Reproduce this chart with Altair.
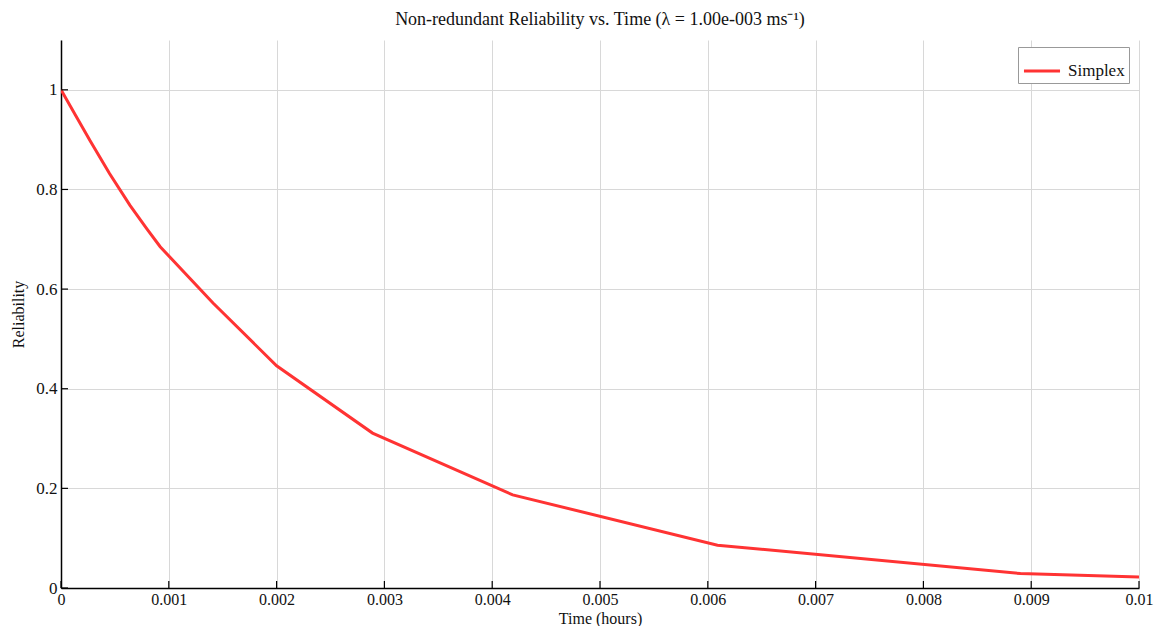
import altair as alt
import pandas as pd

time_h = [0, 0.00014, 0.00027, 0.00045, 0.00064, 0.0008, 0.00092, 0.00141, 0.002,
          0.00289, 0.00419, 0.00609, 0.0089, 0.01]
reliability = [1.0, 0.947, 0.898, 0.832, 0.768, 0.720, 0.685, 0.572, 0.446,
               0.311, 0.187, 0.086, 0.029, 0.022]
series = ["Simplex"] * len(time_h)

x_ticks = [0, 0.001, 0.002, 0.003, 0.004, 0.005, 0.006, 0.007, 0.008, 0.009, 0.01]
y_ticks = [0, 0.2, 0.4, 0.6, 0.8, 1.0]

W, H = 1078, 548
FONT = "Liberation Serif"

df = pd.DataFrame({"t": time_h, "r": reliability, "s": series})
xt = pd.DataFrame({"t": x_ticks})
yt = pd.DataFrame({"r": y_ticks})

xscale = alt.Scale(domain=[0, 0.01], nice=False, zero=False)
yscale = alt.Scale(domain=[0, 1.1], nice=False)

line = alt.Chart(df).mark_line(strokeWidth=3, clip=True).encode(
    x=alt.X("t:Q", scale=xscale, title="Time (hours)",
            axis=alt.Axis(values=x_ticks, format="~g", grid=True, tickSize=0,
                          labelFlush=False, labelPadding=3, titlePadding=3,
                          labelFontSize=16)),
    y=alt.Y("r:Q", scale=yscale, title="Reliability",
            axis=alt.Axis(values=y_ticks, format="~g", grid=True, tickSize=0,
                          labelPadding=4, titlePadding=9)),
    color=alt.Color("s:N", scale=alt.Scale(range=["#ff3333"]),
                    legend=alt.Legend(title=None, orient="none", legendX=957, legendY=7,
                                      symbolType="stroke", symbolStrokeWidth=3,
                                      symbolSize=1300, labelOffset=6, labelFont=FONT,
                                      labelFontSize=17, labelColor="#111",
                                      strokeColor="#999", fillColor="white", padding=4)),
)

xtick_marks = alt.Chart(xt).mark_rule(color="black", strokeWidth=1.2).encode(
    x=alt.X("t:Q", scale=xscale), y=alt.value(H), y2=alt.value(H - 7)
)
ytick_marks = alt.Chart(yt).mark_rule(color="black", strokeWidth=1.2).encode(
    y=alt.Y("r:Q", scale=yscale), x=alt.value(0), x2=alt.value(7)
)

chart = alt.layer(line, xtick_marks, ytick_marks).properties(
    width=W, height=H,
    title=alt.Title("Non-redundant Reliability vs. Time (λ = 1.00e-003 ms⁻¹)",
                    font=FONT, fontSize=18, fontWeight="normal", color="#111", offset=11),
    autosize=alt.AutoSizeParams(type="none"),
    padding={"left": 53, "top": 32, "right": 15, "bottom": 38},
).configure_view(stroke=None).configure_axis(
    labelFont=FONT, titleFont=FONT, labelFontSize=17, titleFontSize=16,
    labelColor="#111", titleColor="#111", titleFontWeight="normal",
    domainColor="black", domainWidth=1.5, gridColor="#d8d8d8", gridWidth=1,
).configure_title(anchor="middle")

chart.save("out.html", embed_options={"renderer": "svg", "actions": False})
